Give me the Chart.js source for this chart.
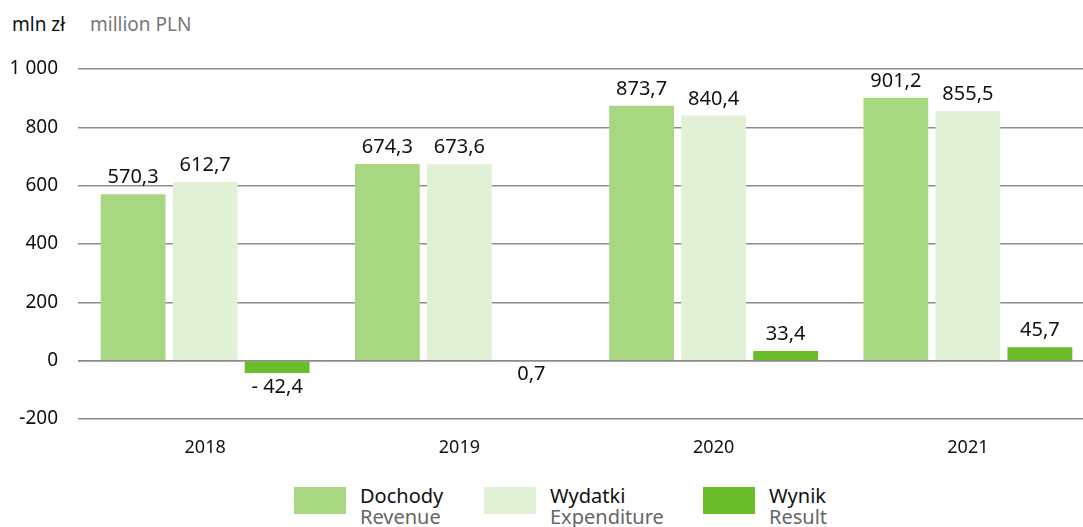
<!DOCTYPE html>
<html>
<head>
<meta charset="utf-8">
<script src="https://cdn.jsdelivr.net/npm/chart.js@4"></script>
<style>
    body { margin: 0; background: #fff; overflow: hidden; font-family: "Noto Sans", sans-serif; }
    #wrap { position: absolute; left: 0; top: 0; width: 1100px; height: 470px; }
    .title { position: absolute; top: 11px; font-size: 19px; }
    .legend { position: absolute; top: 485px; display: flex; }
    .sw { width: 52px; height: 27px; margin-right: 14px; margin-top: 2px; }
    .lt { font-size: 20px; line-height: 21px; color: #111; }
    .lt span { color: #666; display: block; }
</style>
</head>
<body>
<div class="title" style="left:12px;color:#111">mln zł</div>
<div class="title" style="left:90px;color:#777">million PLN</div>
<div id="wrap"><canvas id="chart"></canvas></div>
<div id="legend"></div>
<script>
document.addEventListener("DOMContentLoaded", function () {
    // =============== Data ===============
    const years = ["2018", "2019", "2020", "2021"];
    const revenue = [570.3, 674.3, 873.7, 901.2];
    const expenditure = [612.7, 673.6, 840.4, 855.5];
    const result = [-42.4, 0.7, 33.4, 45.7];
    const yTicks = [-200, 0, 200, 400, 600, 800, 1000];

    const seriesNames = [["Dochody", "Revenue"], ["Wydatki", "Expenditure"], ["Wynik", "Result"]];
    const colors = ["#a7d780", "#e0f1d5", "#6abd28"];
    const FONT = "'Noto Sans', sans-serif";

    function fmt(v) {
        const s = Math.abs(v).toFixed(1).replace(".", ",");
        return v < 0 ? "- " + s : s;
    }

    // value labels + zero line drawn over the bars
    const valueLabels = {
        id: "valueLabels",
        afterDatasetsDraw(chart) {
            const ctx = chart.ctx;
            const area = chart.chartArea;
            const y0 = chart.scales.y.getPixelForValue(0);
            ctx.save();
            ctx.strokeStyle = "#8c8c8c";
            ctx.lineWidth = 1.5;
            ctx.beginPath();
            ctx.moveTo(area.left, y0);
            ctx.lineTo(area.right, y0);
            ctx.stroke();

            ctx.font = "20px " + FONT;
            ctx.fillStyle = "#111";
            ctx.textAlign = "center";
            chart.data.datasets.forEach((ds, i) => {
                chart.getDatasetMeta(i).data.forEach((bar, j) => {
                    const v = ds.data[j];
                    if (v > 1) {
                        ctx.textBaseline = "alphabetic";
                        ctx.fillText(fmt(v), bar.x, bar.y - 11);
                    } else {
                        ctx.textBaseline = "top";
                        ctx.fillText(fmt(v), bar.x, Math.max(bar.y, bar.base) + 4);
                    }
                });
            });
            ctx.restore();
        }
    };

    new Chart(document.getElementById("chart"), {
        type: "bar",
        data: {
            labels: years,
            datasets: [
                { label: "Dochody", data: revenue, backgroundColor: colors[0] },
                { label: "Wydatki", data: expenditure, backgroundColor: colors[1] },
                { label: "Wynik", data: result, backgroundColor: colors[2] }
            ]
        },
        options: {
            responsive: true,
            maintainAspectRatio: false,
            animation: false,
            categoryPercentage: 0.85,
            barPercentage: 0.9,
            layout: { padding: { top: 69, right: 5, left: 0, bottom: 0 } },
            plugins: { legend: { display: false }, tooltip: { enabled: false } },
            scales: {
                x: {
                    grid: { display: false },
                    border: { display: false },
                    ticks: { color: "#111", padding: 10, font: { size: 18, family: FONT } },
                    afterFit: s => { s.height = 51; }
                },
                y: {
                    min: -200,
                    max: 1000,
                    afterBuildTicks: s => { s.ticks = yTicks.map(v => ({ value: v })); },
                    grid: { color: "#8c8c8c", lineWidth: 1.5, drawTicks: false },
                    border: { display: false },
                    ticks: {
                        color: "#111",
                        padding: 20,
                        font: { size: 19, family: FONT },
                        callback: v => String(v).replace(/\B(?=(\d{3})+(?!\d))/g, " ")
                    },
                    afterFit: s => { s.width = 78; }
                }
            }
        },
        plugins: [valueLabels]
    });

    // =============== Legend ===============
    const legendBox = document.getElementById("legend");
    const lefts = [294, 484, 703];
    seriesNames.forEach((n, i) => {
        const d = document.createElement("div");
        d.className = "legend";
        d.style.left = lefts[i] + "px";
        d.innerHTML = `<div class="sw" style="background:${colors[i]}"></div><div class="lt">${n[0]}<span>${n[1]}</span></div>`;
        legendBox.appendChild(d);
    });
});
</script>
</body>
</html>
